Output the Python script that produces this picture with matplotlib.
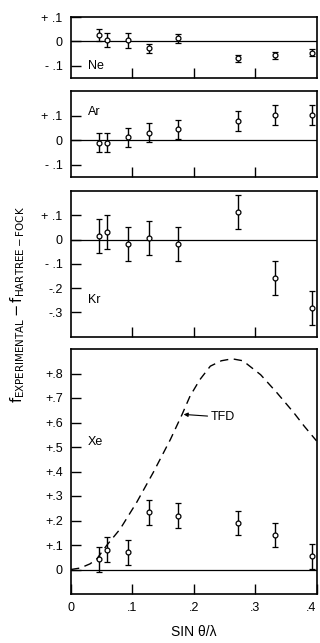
import matplotlib
matplotlib.use("Agg")
import matplotlib.pyplot as plt

# sin(theta)/lambda positions of the measurements
x = [0.046, 0.058, 0.093, 0.127, 0.175, 0.272, 0.332, 0.392]

ne_y = [0.026, 0.005, 0.004, -0.029, 0.012, -0.069, -0.057, -0.046]
ne_err = [0.024, 0.028, 0.030, 0.020, 0.020, 0.015, 0.015, 0.015]

ar_y = [-0.010, -0.010, 0.011, 0.031, 0.044, 0.079, 0.102, 0.102]
ar_err = [0.04, 0.04, 0.04, 0.04, 0.04, 0.04, 0.04, 0.04]

kr_y = [0.016, 0.033, -0.018, 0.005, -0.020, 0.115, -0.157, -0.281]
kr_err = [0.07, 0.07, 0.07, 0.07, 0.07, 0.07, 0.07, 0.07]

xe_y = [0.041, 0.081, 0.070, 0.233, 0.220, 0.190, 0.141, 0.054]
xe_err = [0.05, 0.05, 0.05, 0.05, 0.05, 0.05, 0.05, 0.05]

# Thomas-Fermi-Dirac curve (Xe)
tfd_x = [0.0, 0.015, 0.031, 0.042, 0.058, 0.080, 0.107, 0.134, 0.162, 0.181, 0.194,
         0.21, 0.227, 0.245, 0.2626, 0.28, 0.309, 0.336, 0.363, 0.38, 0.40]
tfd_y = [0.0, 0.006, 0.023, 0.043, 0.098, 0.165, 0.274, 0.396, 0.531, 0.633, 0.708,
         0.775, 0.83, 0.852, 0.86, 0.852, 0.795, 0.72, 0.64, 0.585, 0.525]

panels = [
    ("Ne", ne_y, ne_err, (-0.15, 0.1), [0.1, 0, -0.1], ["+ .1", "0", "- .1"], (0.028, -0.1)),
    ("Ar", ar_y, ar_err, (-0.15, 0.2), [0.1, 0, -0.1], ["+ .1", "0", "- .1"], (0.028, 0.115)),
    ("Kr", kr_y, kr_err, (-0.4, 0.2), [0.1, 0, -0.1, -0.2, -0.3],
     ["+ .1", "0", "- .1", "-.2", "-.3"], (0.028, -0.25)),
    ("Xe", xe_y, xe_err, (-0.1, 0.9), [0.8, 0.7, 0.6, 0.5, 0.4, 0.3, 0.2, 0.1, 0],
     ["+.8", "+.7", "+.6", "+.5", "+.4", "+.3", "+.2", "+.1", "0"], (0.028, 0.52)),
]

# panel boxes in pixels (top, bottom) for a 320x643 figure
boxes = [(17, 78), (91, 177), (191, 336.7), (349, 594)]

plt.rcParams['font.family'] = ['Liberation Sans', 'DejaVu Sans']
fig = plt.figure(figsize=(3.2, 6.43), dpi=100)

left = 71 / 320
width = (316.5 - 71) / 320

for (name, y, err, ylim, yt, ytl, lab), (top, bot) in zip(panels, boxes):
    ax = fig.add_axes([left, 1 - bot / 643, width, (bot - top) / 643])
    ax.axhline(0, color='black', lw=0.9)
    ax.errorbar(x, y, yerr=err, fmt='o', ms=3.5, mfc='white', mec='black', mew=0.9,
                ecolor='black', elinewidth=1.0, capsize=2.2, capthick=1.0)
    if name == "Xe":
        ax.plot(tfd_x, tfd_y, color='black', lw=1.0, dashes=(6, 4))
        ax.annotate("TFD", xy=(0.1835, 0.633), xytext=(0.227, 0.622),
                    fontsize=9, va='center',
                    arrowprops=dict(arrowstyle='-|>', color='black', lw=0.8,
                                    mutation_scale=6, shrinkA=0, shrinkB=0))
        ax.set_xticks([0, 0.1, 0.2, 0.3, 0.4])
        ax.set_xticklabels(["0", ".1", ".2", ".3", ".4"])
        ax.get_xticklabels()[-1].set_ha('right')
        ax.set_xlabel("SIN θ/λ", fontsize=10, labelpad=8)
    else:
        ax.set_xticks([0.1, 0.2, 0.3])
        ax.set_xticklabels([])
    ax.text(lab[0], lab[1], name, fontsize=9, va='center')
    ax.set_xlim(0, 0.4)
    ax.set_ylim(*ylim)
    ax.set_yticks(yt)
    ax.set_yticklabels(ytl)
    ax.tick_params(direction='in', length=7, width=1.0, labelsize=9, pad=6,
                   top=False, right=False)
    for s in ax.spines.values():
        s.set_linewidth(1.2)

fig.text(0.055, 0.526,
         r"$\mathsf{f}_{\mathsf{EXPERIMENTAL}}\,\mathsf{-}\,\mathsf{f}_{\mathsf{HARTREE-FOCK}}$",
         rotation=90, fontsize=10.5, ha='center', va='center')

fig.savefig("out.png", dpi=100)
